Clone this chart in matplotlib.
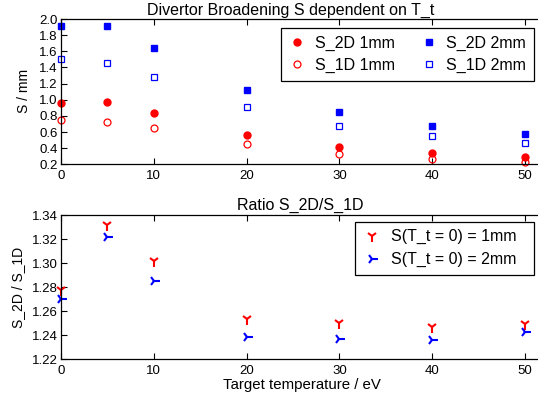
import matplotlib
matplotlib.use("Agg")
import matplotlib.pyplot as plt

plt.rcParams['font.family'] = ['Liberation Sans', 'DejaVu Sans']

# Data
T = [0, 5, 10, 20, 30, 40, 50]
s2d_1mm = [0.965, 0.97, 0.834, 0.568, 0.42, 0.34, 0.29]
s1d_1mm = [0.75, 0.726, 0.648, 0.449, 0.33, 0.27, 0.23]
s2d_2mm = [1.917, 1.917, 1.644, 1.12, 0.845, 0.67, 0.57]
s1d_2mm = [1.507, 1.458, 1.284, 0.912, 0.68, 0.55, 0.47]
ratio_1mm = [1.2776, 1.3317, 1.302, 1.2533, 1.250, 1.247, 1.249]
ratio_2mm = [1.270, 1.322, 1.2854, 1.2383, 1.2369, 1.236, 1.243]
xticks = [0, 10, 20, 30, 40, 50]
top_yticks = [0.2, 0.4, 0.6, 0.8, 1.0, 1.2, 1.4, 1.6, 1.8, 2.0]
bot_yticks = [1.22, 1.24, 1.26, 1.28, 1.30, 1.32, 1.34]

W, H = 538, 398
fig = plt.figure(figsize=(W / 100, H / 100), dpi=100)

px_per_unit = (525 - 61) / 50.0
ax_w = 60 * px_per_unit / W
ax1 = fig.add_axes([61 / W, 1 - 164.3 / H, ax_w, (164.3 - 19) / H])
ax2 = fig.add_axes([61 / W, 1 - 359.3 / H, ax_w, (359.3 - 215) / H])

red = '#ff0000'
blue = '#0000ff'

ax1.plot(T, s2d_1mm, 'o', color=red, ms=5, mec=red, label='S_2D 1mm', clip_on=False)
ax1.plot(T, s1d_1mm, 'o', color=red, ms=5, mfc='none', mew=0.9, label='S_1D 1mm', clip_on=False)
ax1.plot(T, s2d_2mm, 's', color=blue, ms=4.5, label='S_2D 2mm', clip_on=False)
ax1.plot(T, s1d_2mm, 's', color=blue, ms=4.5, mfc='none', mew=0.9, label='S_1D 2mm', clip_on=False)

ax2.plot(T, ratio_1mm, '1', color=red, ms=8, mew=1.5, label='S(T_t = 0) = 1mm', clip_on=False)
ax2.plot(T, ratio_2mm, '4', color=blue, ms=8, mew=1.5, label='S(T_t = 0) = 2mm', clip_on=False)

for ax in (ax1, ax2):
    ax.set_xlim(0, 60)
    ax.set_xticks(xticks)
    ax.set_xticklabels([str(x) for x in xticks])
    ax.tick_params(direction='in', top=True, right=True, length=4, width=0.8,
                   labelsize=9.5, colors='black')
    ax.tick_params(axis='x', pad=4)
    ax.tick_params(axis='y', pad=2.5)
    for sp in ax.spines.values():
        sp.set_linewidth(0.9)

ax1.set_ylim(0.2, 2.0)
ax1.set_yticks(top_yticks)
ax1.set_yticklabels([f'{v:.1f}' for v in top_yticks])
ax2.set_ylim(1.22, 1.34)
ax2.set_yticks(bot_yticks)
ax2.set_yticklabels([f'{v:.2f}' for v in bot_yticks])

fig.text(291 / W, 1 - 15 / H, 'Divertor Broadening S dependent on T_t', ha='center',
         va='baseline', fontsize=11.5)
fig.text(300 / W, 1 - 210 / H, 'Ratio S_2D/S_1D', ha='center', va='baseline', fontsize=11.5)
fig.text(301.5 / W, 1 - 389 / H, 'Target temperature / eV', ha='center', va='baseline', fontsize=10.8)
fig.text(24.5 / W, 1 - 91 / H, 'S / mm', ha='center', va='center', rotation=90, fontsize=10)
fig.text(18 / W, 1 - 287 / H, 'S_2D / S_1D', ha='center', va='center', rotation=90, fontsize=10)

leg1 = ax1.legend(ncol=2, loc='upper left',
                  bbox_to_anchor=(281 / W, 1 - 80 / H, (534 - 281) / W, 52 / H),
                  bbox_transform=fig.transFigure, borderaxespad=0, fontsize=11.5,
                  mode='expand', frameon=True, fancybox=False, edgecolor='black',
                  framealpha=1, handlelength=1.0, handletextpad=0.6, columnspacing=1.4,
                  labelspacing=0.4, borderpad=0.5)
leg1.get_frame().set_linewidth(0.9)

leg2 = ax2.legend(loc='upper left',
                  bbox_to_anchor=(355 / W, 1 - 275 / H, (534 - 355) / W, 53 / H),
                  bbox_transform=fig.transFigure, borderaxespad=0, fontsize=11.5,
                  mode='expand', frameon=True, fancybox=False, edgecolor='black',
                  framealpha=1, handlelength=1.2, handletextpad=0.6,
                  labelspacing=0.5, borderpad=0.45)
leg2.get_frame().set_linewidth(0.9)

fig.savefig('out.png', dpi=100)
